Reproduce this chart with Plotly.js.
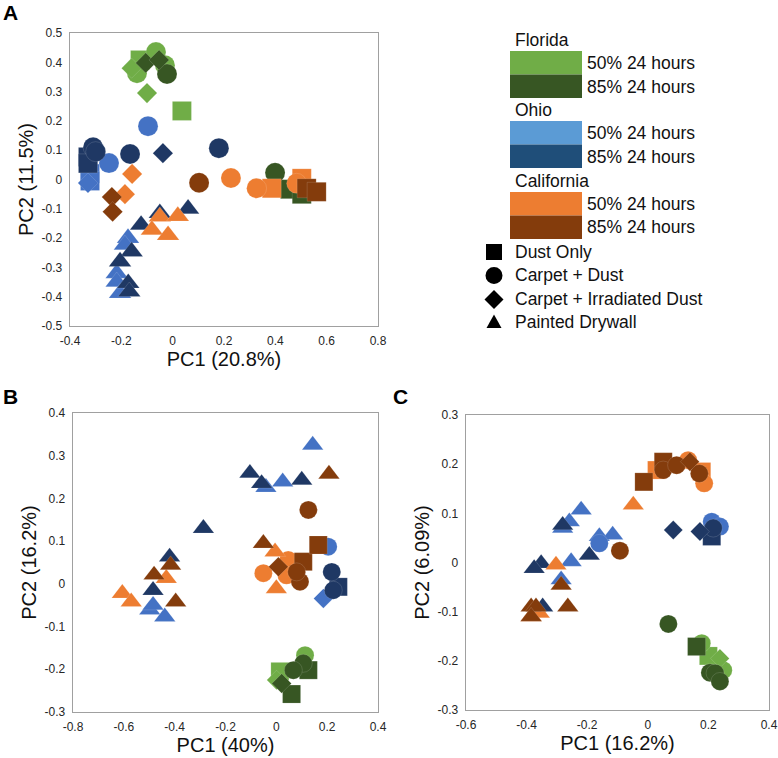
<!DOCTYPE html>
<html><head><meta charset="utf-8">
<script src="https://cdn.plot.ly/plotly-3.0.1.min.js"></script>
<style>html,body{margin:0;padding:0;background:#fff}#chart{width:778px;height:758px}</style>
</head><body><div id="chart"></div>
<script>
// ---------- Panel A data ----------
const aFL50x = [-0.127, 0.036, -0.065, -0.139, -0.03, -0.10, -0.16];
const aFL50y = [0.408, 0.234, 0.435, 0.363, 0.39, 0.295, 0.38];
const aFL50s = ['sq','sq','ci','ci','ci','di','di'];
const aFL85x = [0.457, 0.503, 0.399, -0.022, -0.105, -0.053];
const aFL85y = [-0.033, -0.05, 0.023, 0.36, 0.398, 0.408];
const aFL85s = ['sq','sq','ci','ci','di','di'];
const aOH50x = [-0.322, -0.322, -0.33, -0.096, -0.248, -0.174, -0.186, -0.218, -0.218, -0.205];
const aOH50y = [0.02, -0.005, -0.012, 0.182, 0.056, -0.2, -0.223, -0.32, -0.349, -0.388];
const aOH50s = ['sq','sq','di','ci','ci','tr','tr','tr','tr','tr'];
const aOH85x = [-0.33, -0.33, -0.31, -0.30, -0.166, 0.18, -0.038, 0.06, -0.05, -0.123, -0.16, -0.205, -0.173, -0.169];
const aOH85y = [0.077, 0.055, 0.11, 0.095, 0.087, 0.107, 0.09, -0.10, -0.115, -0.155, -0.246, -0.28, -0.354, -0.383];
const aOH85s = ['sq','sq','ci','ci','ci','ci','di','tr','tr','tr','tr','tr','tr','tr'];
const aCA50x = [0.386, 0.503, 0.227, 0.327, 0.483, -0.158, -0.186, -0.05, 0.02, -0.081, -0.018];
const aCA50y = [-0.03, 0.004, 0.005, -0.03, -0.013, 0.019, -0.05, -0.127, -0.125, -0.172, -0.19];
const aCA50s = ['sq','sq','ci','ci','ci','di','di','tr','tr','tr','tr'];
const aCA85x = [0.522, 0.561, 0.103, -0.237, -0.234];
const aCA85y = [-0.03, -0.042, -0.011, -0.06, -0.11];
const aCA85s = ['sq','sq','ci','di','di'];

// ---------- Panel B data ----------
const bFL50x = [0.014, 0.113, 0.001];
const bFL50y = [-0.205, -0.167, -0.225];
const bFL50s = ['sq','ci','di'];
const bFL85x = [0.126, 0.06, 0.106, 0.067, 0.021];
const bFL85y = [-0.202, -0.258, -0.186, -0.202, -0.233];
const bFL85s = ['sq','sq','ci','ci','di'];
const bOH50x = [0.204, 0.185, 0.143, -0.041, 0.025, -0.498, -0.439, -0.485];
const bOH50y = [0.087, -0.034, 0.325, 0.226, 0.239, -0.061, -0.077, -0.05];
const bOH50s = ['ci','di','tr','tr','tr','tr','tr','tr'];
const bOH85x = [0.244, 0.218, 0.224, -0.104, -0.058, 0.1, -0.287, -0.42, -0.485];
const bOH85y = [-0.007, 0.028, -0.015, 0.259, 0.235, 0.243, 0.13, 0.063, -0.015];
const bOH85s = ['sq','ci','ci','tr','tr','tr','tr','tr','tr'];
const bCA50x = [-0.051, 0.047, 0.04, -0.606, -0.571, -0.433, -0.005, 0.0];
const bCA50y = [0.025, 0.056, 0.02, -0.022, -0.042, 0.013, 0.075, -0.011];
const bCA50s = ['ci','ci','ci','tr','tr','tr','tr','tr'];
const bCA85x = [0.106, 0.165, 0.126, 0.093, 0.08, 0.008, 0.207, -0.051, -0.416, -0.481, -0.396];
const bCA85y = [0.052, 0.091, 0.173, 0.005, 0.028, 0.04, 0.257, 0.095, 0.044, 0.021, -0.042];
const bCA85s = ['sq','sq','ci','ci','ci','di','tr','tr','tr','tr','tr'];

// ---------- Panel C data ----------
const cFL50x = [0.2, 0.178, 0.249, 0.238];
const cFL50y = [-0.19, -0.164, -0.219, -0.195];
const cFL50s = ['sq','ci','ci','di'];
const cFL85x = [0.161, 0.068, 0.205, 0.222, 0.238];
const cFL85y = [-0.171, -0.125, -0.224, -0.225, -0.242];
const cFL85s = ['sq','ci','ci','ci','ci'];
const cOH50x = [-0.22, -0.259, -0.281, -0.16, -0.116, -0.253, -0.286, -0.16, 0.211, 0.238];
const cOH50y = [0.107, 0.083, 0.07, 0.053, 0.056, 0.002, -0.035, 0.039, 0.083, 0.073];
const cOH50s = ['tr','tr','tr','tr','tr','tr','tr','ci','ci','ci'];
const cOH85x = [0.211, 0.216, 0.084, 0.172, -0.281, -0.193, -0.352, -0.375, -0.347];
const cOH85y = [0.053, 0.07, 0.066, 0.063, 0.076, 0.015, -0.002, -0.012, -0.09];
const cOH85s = ['sq','ci','di','di','tr','tr','tr','tr','tr'];
const cCA50x = [0.178, 0.029, 0.186, 0.133, -0.048, -0.303, -0.385, -0.358];
const cCA50y = [0.185, 0.188, 0.161, 0.208, 0.117, -0.005, -0.11, -0.103];
const cCA50s = ['sq','sq','ci','ci','tr','tr','tr','tr'];
const cCA85x = [0.051, -0.013, 0.051, 0.095, 0.17, -0.092, 0.139, -0.286, -0.385, -0.369, -0.385, -0.264];
const cCA85y = [0.205, 0.164, 0.188, 0.198, 0.181, 0.024, 0.205, -0.046, -0.09, -0.09, -0.11, -0.09];
const cCA85s = ['sq','sq','ci','ci','ci','ci','di','tr','tr','tr','tr','tr'];

// ---------- ticks & labels ----------
const aXTicks = [-0.4, -0.2, 0, 0.2, 0.4, 0.6, 0.8];
const aXText  = ['-0.4','-0.2','0','0.2','0.4','0.6','0.8'];
const aYTicks = [-0.5,-0.4,-0.3,-0.2,-0.1,0,0.1,0.2,0.3,0.4,0.5];
const aYText  = ['-0.5','-0.4','-0.3','-0.2','-0.1','0','0.1','0.2','0.3','0.4','0.5'];
const bXTicks = [-0.8,-0.6,-0.4,-0.2,0,0.2,0.4];
const bXText  = ['-0.8','-0.6','-0.4','-0.2','0','0.2','0.4'];
const bYTicks = [-0.3,-0.2,-0.1,0,0.1,0.2,0.3,0.4];
const bYText  = ['-0.3','-0.2','-0.1','0','0.1','0.2','0.3','0.4'];
const cXTicks = [-0.6,-0.4,-0.2,0,0.2,0.4];
const cXText  = ['-0.6','-0.4','-0.2','0','0.2','0.4'];
const cYTicks = [-0.3,-0.2,-0.1,0,0.1,0.2,0.3];
const cYText  = ['-0.3','-0.2','-0.1','0','0.1','0.2','0.3'];

const regionNames = ['Florida','Ohio','California'];
const conditionNames = ['50% 24 hours','85% 24 hours'];
const sampleNames = ['Dust Only','Carpet + Dust','Carpet + Irradiated Dust','Painted Drywall'];

// ---------- styling ----------
const COL = {FL50:'#70AD47', FL85:'#375623', OH50:'#4472C4', OH85:'#1F3864', CA50:'#ED7D31', CA85:'#843C0C'};
const LEGCOL = [['#70AD47','#375623'],['#5B9BD5','#1F4E79'],['#ED7D31','#843C0C']];
const SYM = {sq:'square', ci:'circle', di:'diamond', tr:'triangle-up'};
const SIZE_A = {sq:19, ci:20, di:15.5, tr:19.5};
const SIZE_B = {sq:18, ci:18, di:15, tr:18.5};
const SIZE_C = {sq:18, ci:18, di:14.5, tr:18.5};

function mk(xs, ys, ss, color, ax, sizes) {
  return {type:'scatter', mode:'markers', x:xs, y:ys, xaxis:'x'+ax, yaxis:'y'+ax,
    marker:{symbol:ss.map(s=>SYM[s]), size:ss.map(s=>sizes[s]), color:color, opacity:1,
      line:{width:0.4, color:'rgba(255,255,255,0.35)'}},
    hoverinfo:'skip', showlegend:false};
}

const traces = [
  mk(aFL50x,aFL50y,aFL50s,COL.FL50,'',SIZE_A), mk(aFL85x,aFL85y,aFL85s,COL.FL85,'',SIZE_A),
  mk(aOH50x,aOH50y,aOH50s,COL.OH50,'',SIZE_A), mk(aOH85x,aOH85y,aOH85s,COL.OH85,'',SIZE_A),
  mk(aCA50x,aCA50y,aCA50s,COL.CA50,'',SIZE_A), mk(aCA85x,aCA85y,aCA85s,COL.CA85,'',SIZE_A),
  mk(bFL50x,bFL50y,bFL50s,COL.FL50,'2',SIZE_B), mk(bFL85x,bFL85y,bFL85s,COL.FL85,'2',SIZE_B),
  mk(bOH50x,bOH50y,bOH50s,COL.OH50,'2',SIZE_B), mk(bOH85x,bOH85y,bOH85s,COL.OH85,'2',SIZE_B),
  mk(bCA50x,bCA50y,bCA50s,COL.CA50,'2',SIZE_B), mk(bCA85x,bCA85y,bCA85s,COL.CA85,'2',SIZE_B),
  mk(cFL50x,cFL50y,cFL50s,COL.FL50,'3',SIZE_C), mk(cFL85x,cFL85y,cFL85s,COL.FL85,'3',SIZE_C),
  mk(cOH50x,cOH50y,cOH50s,COL.OH50,'3',SIZE_C), mk(cOH85x,cOH85y,cOH85s,COL.OH85,'3',SIZE_C),
  mk(cCA50x,cCA50y,cCA50s,COL.CA50,'3',SIZE_C), mk(cCA85x,cCA85y,cCA85s,COL.CA85,'3',SIZE_C)
];

const W = 778, H = 758;
const px = v => v / W;
const py = v => 1 - v / H;
const FONT = 'Liberation Sans, Arial, sans-serif';
const tickFont = {family:FONT, size:12, color:'#262626'};
const titleFont = {family:FONT, size:20, color:'#111'};

function xax(dom, range, tv, tt, title, anchor) {
  return {domain:[px(dom[0]), px(dom[1])], range:range, anchor:anchor, tickmode:'array', tickvals:tv, ticktext:tt,
    showgrid:false, zeroline:false, showline:true, mirror:true, linecolor:'#A0A0A0', linewidth:1.3,
    ticks:'', tickfont:tickFont, ticklabelstandoff:3, fixedrange:true,
    title:{text:title, font:titleFont, standoff:2}};
}
function yax(dom, range, tv, tt, title, anchor) {
  return {domain:[py(dom[1]), py(dom[0])], range:range, anchor:anchor, tickmode:'array', tickvals:tv, ticktext:tt,
    showgrid:false, zeroline:false, showline:true, mirror:true, linecolor:'#A0A0A0', linewidth:1.3,
    ticks:'', tickfont:tickFont, ticklabelstandoff:4, fixedrange:true,
    title:{text:title, font:titleFont, standoff:2}};
}

// ---------- legend (shapes + annotations) ----------
const shapes = [];
const annotations = [];
const legFont = {family:FONT, size:17.5, color:'#111'};
const blockTops = [51, 121, 192];
const headY = [40, 110, 181];
for (let r = 0; r < 3; r++) {
  annotations.push({xref:'paper', yref:'paper', x:px(513), y:py(headY[r]), xanchor:'left', yanchor:'middle',
    text:regionNames[r], showarrow:false, font:legFont});
  for (let c = 0; c < 2; c++) {
    const t = blockTops[r] + c * 23.5;
    shapes.push({type:'rect', xref:'paper', yref:'paper', x0:px(510), x1:px(582), y0:py(t), y1:py(t + 23.5),
      fillcolor:LEGCOL[r][c], line:{width:0}});
    annotations.push({xref:'paper', yref:'paper', x:px(585), y:py(t + 12), xanchor:'left', yanchor:'middle',
      text:conditionNames[c], showarrow:false, font:legFont});
  }
}
const symY = [252, 275.5, 299.5, 321.5];
const sx = 494;
shapes.push({type:'rect', xref:'paper', yref:'paper', x0:px(sx-8), x1:px(sx+8), y0:py(symY[0]-8), y1:py(symY[0]+8), fillcolor:'#000', line:{width:0}});
shapes.push({type:'circle', xref:'paper', yref:'paper', x0:px(sx-8.5), x1:px(sx+8.5), y0:py(symY[1]-8.5), y1:py(symY[1]+8.5), fillcolor:'#000', line:{width:0}});
shapes.push({type:'path', xref:'paper', yref:'paper', fillcolor:'#000', line:{width:0},
  path:`M${px(sx)},${py(symY[2]-9.5)} L${px(sx+9.5)},${py(symY[2])} L${px(sx)},${py(symY[2]+9.5)} L${px(sx-9.5)},${py(symY[2])} Z`});
shapes.push({type:'path', xref:'paper', yref:'paper', fillcolor:'#000', line:{width:0},
  path:`M${px(sx)},${py(symY[3]-7)} L${px(sx+7.5)},${py(symY[3]+6.5)} L${px(sx-7.5)},${py(symY[3]+6.5)} Z`});
for (let i = 0; i < 4; i++) {
  annotations.push({xref:'paper', yref:'paper', x:px(513), y:py(symY[i]), xanchor:'left', yanchor:'middle',
    text:sampleNames[i], showarrow:false, font:legFont});
}

// panel letters
const letterFont = {family:FONT, size:21, color:'#000'};
[['A',1,13],['B',1,396],['C',391,396]].forEach(([t,x,y]) => {
  annotations.push({xref:'paper', yref:'paper', x:px(x), y:py(y), xanchor:'left', yanchor:'middle',
    text:'<b>'+t+'</b>', showarrow:false, font:letterFont});
});

const layout = {
  width:W, height:H, margin:{l:0, r:0, t:0, b:0}, paper_bgcolor:'#fff', plot_bgcolor:'#fff', showlegend:false,
  xaxis:  xax([70,378],  [-0.4,0.8], aXTicks, aXText, 'PC1 (20.8%)', 'y'),
  yaxis:  yax([33,326],  [-0.5,0.5], aYTicks, aYText, 'PC2 (11.5%)', 'x'),
  xaxis2: xax([73,378],  [-0.8,0.4], bXTicks, bXText, 'PC1 (40%)', 'y2'),
  yaxis2: yax([413,712], [-0.3,0.4], bYTicks, bYText, 'PC2 (16.2%)', 'x2'),
  xaxis3: xax([466,769], [-0.6,0.4], cXTicks, cXText, 'PC1 (16.2%)', 'y3'),
  yaxis3: yax([415,710], [-0.3,0.3], cYTicks, cYText, 'PC2 (6.09%)', 'x3'),
  shapes:shapes, annotations:annotations
};

Plotly.newPlot('chart', traces, layout, {displayModeBar:false, staticPlot:true});
</script></body></html>
